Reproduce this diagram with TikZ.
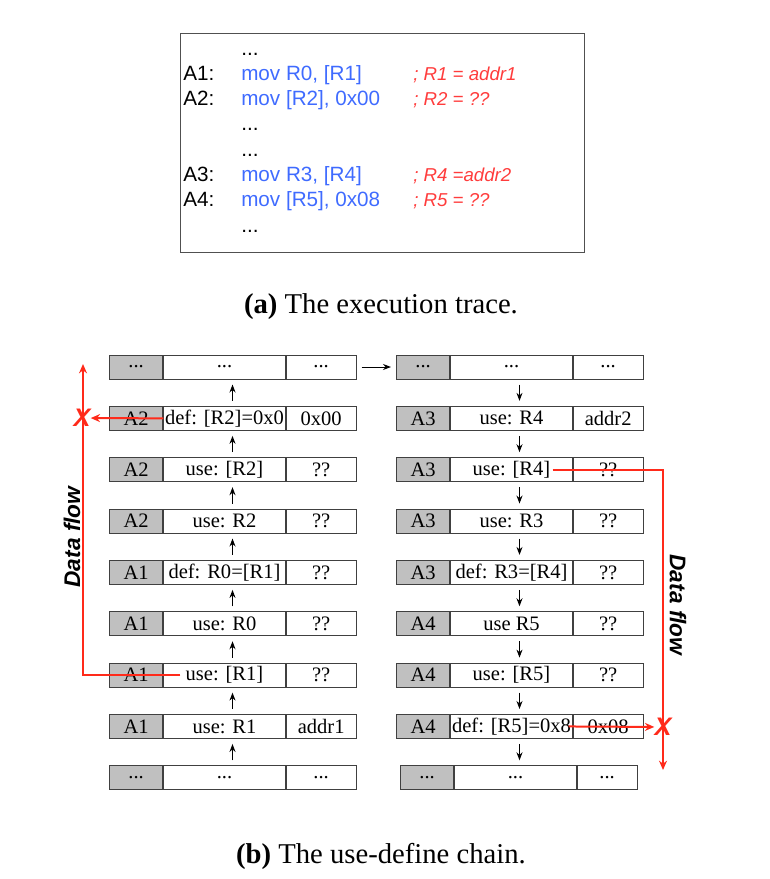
\documentclass[tikz,border=0pt]{standalone}
\usepackage{fontspec}
\setmainfont{Liberation Serif}
\newfontfamily\codefont{Liberation Sans}
\usepackage{tikz}
\usetikzlibrary{arrows.meta, positioning}
\definecolor{CellLine}{HTML}{404040}
\definecolor{TagGray}{HTML}{C0C0C0}
\definecolor{CodeBlue}{HTML}{3F6BFF}
\definecolor{NoteRed}{HTML}{FF3C3C}
\definecolor{FlowRed}{HTML}{FF2A1A}
\definecolor{BoxLine}{HTML}{505050}
\newcommand\etc{...}

\begin{document}
\begin{tikzpicture}[x=0.75pt, y=-0.75pt,
  cell/.style={draw=CellLine, line width=0.75pt, minimum height=18pt, inner sep=0pt, font=\fontsize{15.4}{18}\selectfont},
  tagcell/.style={cell, fill=TagGray, minimum width=40pt},
  opcell/.style={cell, fill=white, minimum width=91pt},
  valcell/.style={cell, fill=white, minimum width=52.5pt},
  chain/.style={-{Stealth[length=6pt, width=4.5pt]}, line width=0.75pt, shorten <=3.75pt, shorten >=3.75pt},
  flow/.style={draw=FlowRed, line width=1.5pt, -{Stealth[length=7pt, width=6pt]}},
  cut/.style={text=FlowRed, inner sep=0pt, font=\codefont\fontsize{19}{19}\selectfont\bfseries\itshape},
  flowlabel/.style={font=\codefont\fontsize{17}{17}\selectfont\bfseries\itshape},
  caption/.style={anchor=base, font=\fontsize{21.5}{24}\selectfont},
  line/.style={anchor=base west, inner sep=0pt, font=\codefont\fontsize{15.5}{18}\selectfont}]

\useasboundingbox (0,0) rectangle (770,879);

% execution trace
\node[draw=BoxLine, line width=0.75pt, minimum width=303pt, minimum height=164.25pt] (trace) at (382,142.5) {};
\foreach \lab/\code/\note [count=\k] in {
  {}/{\textcolor{black}{\etc}}/{},
  {A1:}/{mov R0, [R1]}/{; R1 = addr1},
  {A2:}/{mov [R2], 0x00}/{; R2 = ??},
  {}/{\textcolor{black}{\etc}}/{},
  {}/{\textcolor{black}{\etc}}/{},
  {A3:}/{mov R3, [R4]}/{; R4 =addr2},
  {A4:}/{mov [R5], 0x08}/{; R5 = ??},
  {}/{\textcolor{black}{\etc}}/{}} {
  \pgfmathsetmacro\ty{55+25.3*(\k-1)}
  \node[line] (lab\k) at (183,\ty) {\lab};
  \node[line, text=CodeBlue] (code\k) at (241,\ty) {\code};
  \node[line, text=NoteRed, font=\codefont\fontsize{14}{18}\selectfont\itshape] (note\k) at (413,\ty) {\note};
}
\node[caption] (capa) at (381,313) {\textbf{(a)} The execution trace.};

% use-define chain, left column
\foreach \tg/\op/\vl [count=\i] in {
  \etc/\etc/\etc, A2/{def: [R2]=0x0}/0x00, A2/{use: [R2]}/??,
  A2/{use: R2}/??, A1/{def: R0=[R1]}/??, A1/{use: R0}/??,
  A1/{use: [R1]}/??, A1/{use: R1}/addr1, \etc/\etc/\etc} {
  \pgfmathsetmacro\ry{367+51.35*(\i-1)}
  \node[tagcell, anchor=west] (lt\i) at (109,\ry) {\tg};
  \node[opcell, right=0pt of lt\i] (lo\i) {\op};
  \node[valcell, right=0pt of lo\i] (lv\i) {\vl};
}

% right column
\foreach \tg/\op/\vl [count=\i] in {
  \etc/\etc/\etc, A3/{use: R4}/addr2, A3/{use: [R4]}/??,
  A3/{use: R3}/??, A3/{def: R3=[R4]}/??, A4/{use R5}/??,
  A4/{use: [R5]}/??, A4/{def: [R5]=0x8}/0x08} {
  \pgfmathsetmacro\ry{367+51.35*(\i-1)}
  \node[tagcell, anchor=west] (rt\i) at (396,\ry) {\tg};
  \node[opcell, right=0pt of rt\i] (ro\i) {\op};
  \node[valcell, right=0pt of ro\i] (rv\i) {\vl};
}
\node[tagcell, anchor=west] (rt9) at (400,777.8) {\etc};
\node[opcell, right=0pt of rt9] (ro9) {\etc};
\node[valcell, minimum width=45pt, right=0pt of ro9] (rv9) {\etc};

\foreach \i [evaluate=\i as \j using int(\i-1)] in {2,...,9} {
  \draw[chain] ([xshift=6pt]lo\i.north) -- ([xshift=6pt]lo\i.north |- lo\j.south);
  \draw[chain] ([xshift=6pt]ro\j.south) -- ([xshift=6pt]ro\j.south |- ro\i.north);
}
\draw[chain] (lv1) -- (rt1);

% data flow
\coordinate (lstart) at ([xshift=12.75pt]lo7.west);
\coordinate (lhead) at (83,364);
\draw[flow] (lstart) -| (lhead);
\node[cut] (lx) at (82,418) {X};
\draw[flow] (lo2.west) -- (lx);
\node[flowlabel, rotate=90] (lflow) at (72,537) {Data flow};

\coordinate (rstart) at ([xshift=-15pt]ro3.east);
\coordinate (rhead) at (663,770);
\draw[flow] (rstart) -| (rhead);
\node[cut] (rx) at (663,727) {X};
\draw[flow] ([xshift=-3pt]ro8.east) -- (rx);
\node[flowlabel, rotate=-90] (rflow) at (678,605) {Data flow};

\node[caption] (capb) at (381,863) {\textbf{(b)} The use-define chain.};
\end{tikzpicture}
\end{document}
